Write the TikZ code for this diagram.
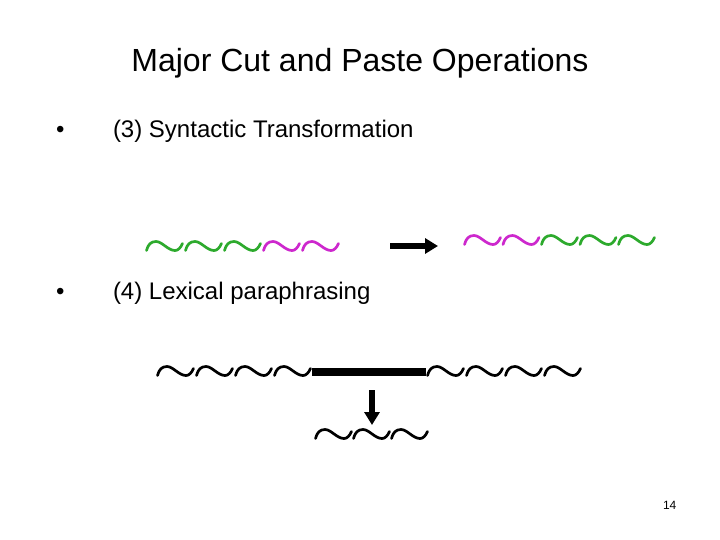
\documentclass[tikz,border=0pt]{standalone}
\usepackage{fontspec}
\setmainfont{Liberation Sans}
\usetikzlibrary{arrows.meta}
\definecolor{tgreen}{RGB}{45,170,45}
\definecolor{tmag}{RGB}{205,40,205}
\tikzset{
  txt/.style={anchor=base west, inner sep=0pt, outer sep=0pt},
  tld/.pic={\draw[line width=2.7pt, line cap=round, pic actions]
     (0.5,4.5) .. controls (2,-1.5) and (5,-4.5) .. (10,-4.5)
     .. controls (16,-4.5) and (22,4.5) .. (29,4.5)
     .. controls (32,4.5) and (34.5,2) .. (36.5,-2.5);},
  fatarrow/.style={line width=6.5pt, -{Triangle[length=13pt,width=15pt]}, shorten >=0pt}
}
\begin{document}
\begin{tikzpicture}[x=1pt,y=-1pt]
\useasboundingbox (0,0) rectangle (720,540);
\node[inner sep=0pt, anchor=base] (title) at (360,72) {\fontsize{32}{38}\selectfont Major Cut and Paste Operations};
\node[txt] (b1) at (56,138) {\fontsize{24}{29}\selectfont •};
\node[txt] (t1) at (113,138) {\fontsize{24}{29}\selectfont (3) Syntactic Transformation};
\node[txt] (b2) at (56,299) {\fontsize{24}{29}\selectfont •};
\node[txt] (t2) at (113,299) {\fontsize{24}{29}\selectfont (4) Lexical paraphrasing};
\node[txt] (pg) at (663,509) {\fontsize{12}{14}\selectfont 14};
% row 1 left
\foreach \i/\c in {0/tgreen,1/tgreen,2/tgreen,3/tmag,4/tmag}
  \pic[color=\c] at ({146+39*\i},246) {tld};
% row 1 right
\foreach \i/\c in {0/tmag,1/tmag,2/tgreen,3/tgreen,4/tgreen}
  \pic[color=\c] at ({464+38.5*\i},240) {tld};
\coordinate (r1a) at (390,246);
\coordinate (r1b) at (438,246);
\draw[fatarrow] (r1a) -- (r1b);
% row 2
\foreach \i in {0,1,2,3}
  \pic[color=black] at ({157+39*\i},371) {tld};
\fill[black] (312,368) rectangle (426,375.5);
\foreach \i in {0,1,2,3}
  \pic[color=black] at ({427+39*\i},371) {tld};
\coordinate (d1) at (372,390);
\coordinate (d2) at (372,425);
\draw[fatarrow] (d1) -- (d2);
\foreach \i in {0,1,2}
  \pic[color=black] at ({315+38*\i},434) {tld};
\end{tikzpicture}
\end{document}
